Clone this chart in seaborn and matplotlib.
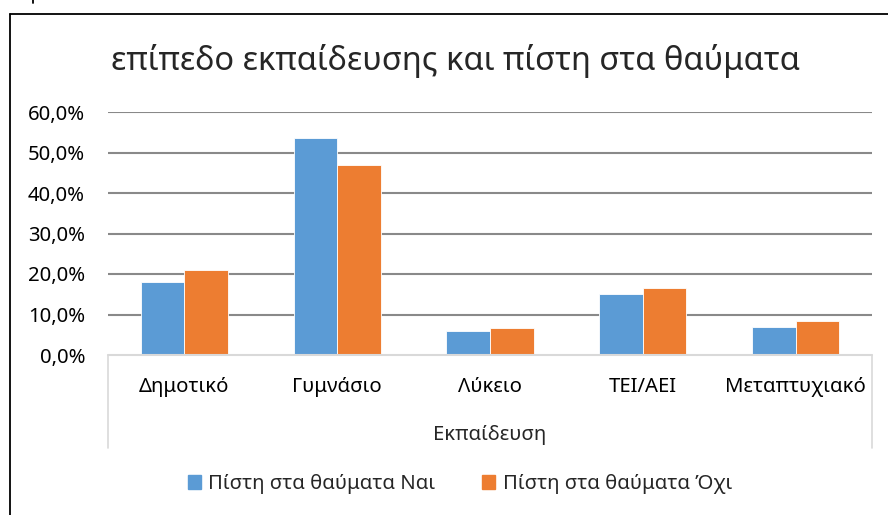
import matplotlib
matplotlib.use("Agg")
import matplotlib.pyplot as plt
import seaborn as sns
import pandas as pd
from matplotlib.lines import Line2D
from matplotlib.ticker import FuncFormatter

# data
categories = ["Δημοτικό", "Γυμνάσιο", "Λύκειο", "ΤΕΙ/ΑΕΙ", "Μεταπτυχιακό"]
series_names = ["Πίστη στα θαύματα Ναι", "Πίστη στα θαύματα Όχι"]
yes_values = [0.180, 0.536, 0.060, 0.150, 0.070]
no_values = [0.211, 0.469, 0.067, 0.165, 0.085]
colors = ["#5B9BD5", "#ED7D31"]

df = pd.DataFrame({
    "cat": categories * 2,
    "series": [series_names[0]] * len(categories) + [series_names[1]] * len(categories),
    "value": yes_values + no_values,
})

sns.set_style("white")
plt.rcParams["font.family"] = ["Noto Sans", "DejaVu Sans"]

W, H = 888, 515
fs = 14.6
fig = plt.figure(figsize=(W / 100, H / 100), dpi=100)
ax = fig.add_axes([108 / W, 1 - 355 / H, (872 - 108) / W, (355 - 112) / H])

sns.barplot(data=df, x="cat", y="value", hue="series", palette=colors,
            saturation=1, width=0.57, edgecolor="white", linewidth=0.6,
            ax=ax, legend=False, zorder=3)

ax.set_ylim(0, 0.6)
ax.set_yticks([i / 10 for i in range(7)])
ax.yaxis.set_major_formatter(FuncFormatter(lambda v, p: f"{v * 100:.1f}%".replace(".", ",")))
ax.set_xlim(-0.5, len(categories) - 0.5)
for y in [i / 10 for i in range(1, 7)]:
    ax.axhline(y, color="#898989", lw=1.5, zorder=1)
for s in ax.spines.values():
    s.set_visible(False)
ax.tick_params(axis="both", length=0, labelsize=fs, colors="#000000")
ax.tick_params(axis="y", pad=16.5)
ax.tick_params(axis="x", pad=16)
ax.set_xlabel("")
ax.set_ylabel("")

# category axis box (pivot field area)
fig.add_artist(Line2D([108 / W, 872 / W], [1 - 355 / H] * 2, color="#d9d9d9", lw=1.5))
fig.add_artist(Line2D([108 / W] * 2, [1 - 355 / H, 1 - 448 / H], color="#d9d9d9", lw=1.2))
fig.add_artist(Line2D([872 / W] * 2, [1 - 355 / H, 1 - 448 / H], color="#d9d9d9", lw=1.2))
fig.text(490 / W, 1 - 435 / H, "Εκπαίδευση", ha="center", va="center", fontsize=fs)

fig.text(455 / W, 1 - 61 / H, "επίπεδο εκπαίδευσης και πίστη στα θαύματα",
         ha="center", va="center", fontsize=23.5)

# legend
handles = [plt.Rectangle((0, 0), 1, 1, color=c) for c in colors]
fig.legend(handles, series_names, loc="center", bbox_to_anchor=(460 / W, 1 - 484 / H),
           ncol=2, frameon=False, fontsize=fs, handlelength=0.65, handleheight=0.65,
           handletextpad=0.35, columnspacing=2.3)

# outer frame
fig.add_artist(Line2D([10 / W] * 2, [0, 1 - 14 / H], color="black", lw=1.3))
fig.add_artist(Line2D([10 / W, 1], [1 - 14 / H] * 2, color="black", lw=1.3))
fig.add_artist(Line2D([33 / W] * 2, [1, 1 - 3 / H], color="black", lw=1.3))

fig.savefig("out.png", dpi=100)
